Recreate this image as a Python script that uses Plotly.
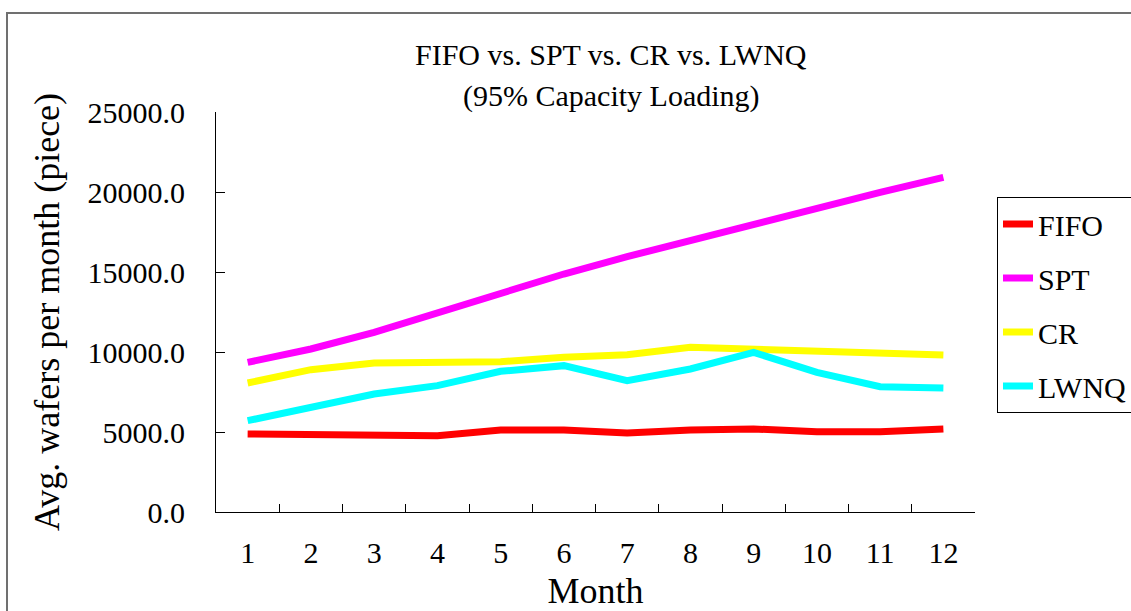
import plotly.graph_objects as go

months = ["1", "2", "3", "4", "5", "6", "7", "8", "9", "10", "11", "12"]
fifo = [4875, 4875, 4771, 4771, 5125, 5125, 4938, 5125, 5188, 5021, 5021, 5188]
spt = [9354, 10188, 11229, 12479, 13729, 14875, 15958, 16958, 17958, 19042, 19979, 20917]
cr = [8063, 8896, 9313, 9396, 9396, 9667, 9833, 10292, 10188, 10021, 10021, 9813]
lwnq = [5708, 6542, 7375, 7896, 8792, 9146, 8208, 8938, 9979, 8729, 7833, 7750]

series = [("FIFO", fifo, "#FF0000"), ("SPT", spt, "#FF00FF"),
          ("CR", cr, "#FFFF00"), ("LWNQ", lwnq, "#00FFFF")]

FONT = "Liberation Serif"
FS = 30
W, H = 1131, 611
L, R, T, B = 216, 156, 112, 99

fig = go.Figure()
for name, vals, col in series:
    fig.add_trace(go.Scatter(x=months, y=vals, name=name, mode="lines",
                             legendgroup=name,
                             line=dict(color=col, width=7)))

fig.update_layout(
    width=W, height=H,
    margin=dict(l=L, r=R, t=T, b=B),
    paper_bgcolor="white", plot_bgcolor="white",
    font=dict(family=FONT, size=FS, color="black"),
    showlegend=True,
    legend=dict(xref="container", yref="container",
                x=997 / W, y=(H - 197) / H,
                xanchor="left", yanchor="top",
                bordercolor="black", borderwidth=1,
                font=dict(family=FONT, size=FS),
                tracegroupgap=12, bgcolor="white"),
    xaxis=dict(type="category", range=[-0.5, 11.5], automargin=False,
               showline=True, linecolor="black", linewidth=1,
               ticks="inside", ticklen=8, tickcolor="black",
               tickson="boundaries", showgrid=False, zeroline=False,
               ticklabelstandoff=14,
               title=dict(text="Month", standoff=10)),
    yaxis=dict(range=[0, 25000], dtick=5000, tickformat=".1f", automargin=False,
               showline=True, linecolor="black", linewidth=1,
               ticks="inside", ticklen=9, tickcolor="black",
               showgrid=False, zeroline=False,
               ticklabelstandoff=24,
               title=dict(text="Avg. wafers per month (piece)", standoff=16)),
    annotations=[
        dict(text="FIFO vs. SPT vs. CR vs. LWNQ", xref="paper", yref="paper",
             x=(611 - L) / (W - L - R), y=(H - B - 55) / (H - T - B),
             showarrow=False, xanchor="center", yanchor="middle",
             font=dict(family=FONT, size=FS)),
        dict(text="(95% Capacity Loading)", xref="paper", yref="paper",
             x=(611 - L) / (W - L - R), y=(H - B - 96) / (H - T - B),
             showarrow=False, xanchor="center", yanchor="middle",
             font=dict(family=FONT, size=FS)),
    ],
    shapes=[dict(type="rect", xref="paper", yref="paper",
                 x0=(7 - L) / (W - L - R), x1=(W + 20 - L) / (W - L - R),
                 y0=(H - B - (H + 20)) / (H - T - B), y1=(H - B - 13) / (H - T - B),
                 line=dict(color="#707070", width=2), layer="below")],
)

fig.write_html("out.html")
